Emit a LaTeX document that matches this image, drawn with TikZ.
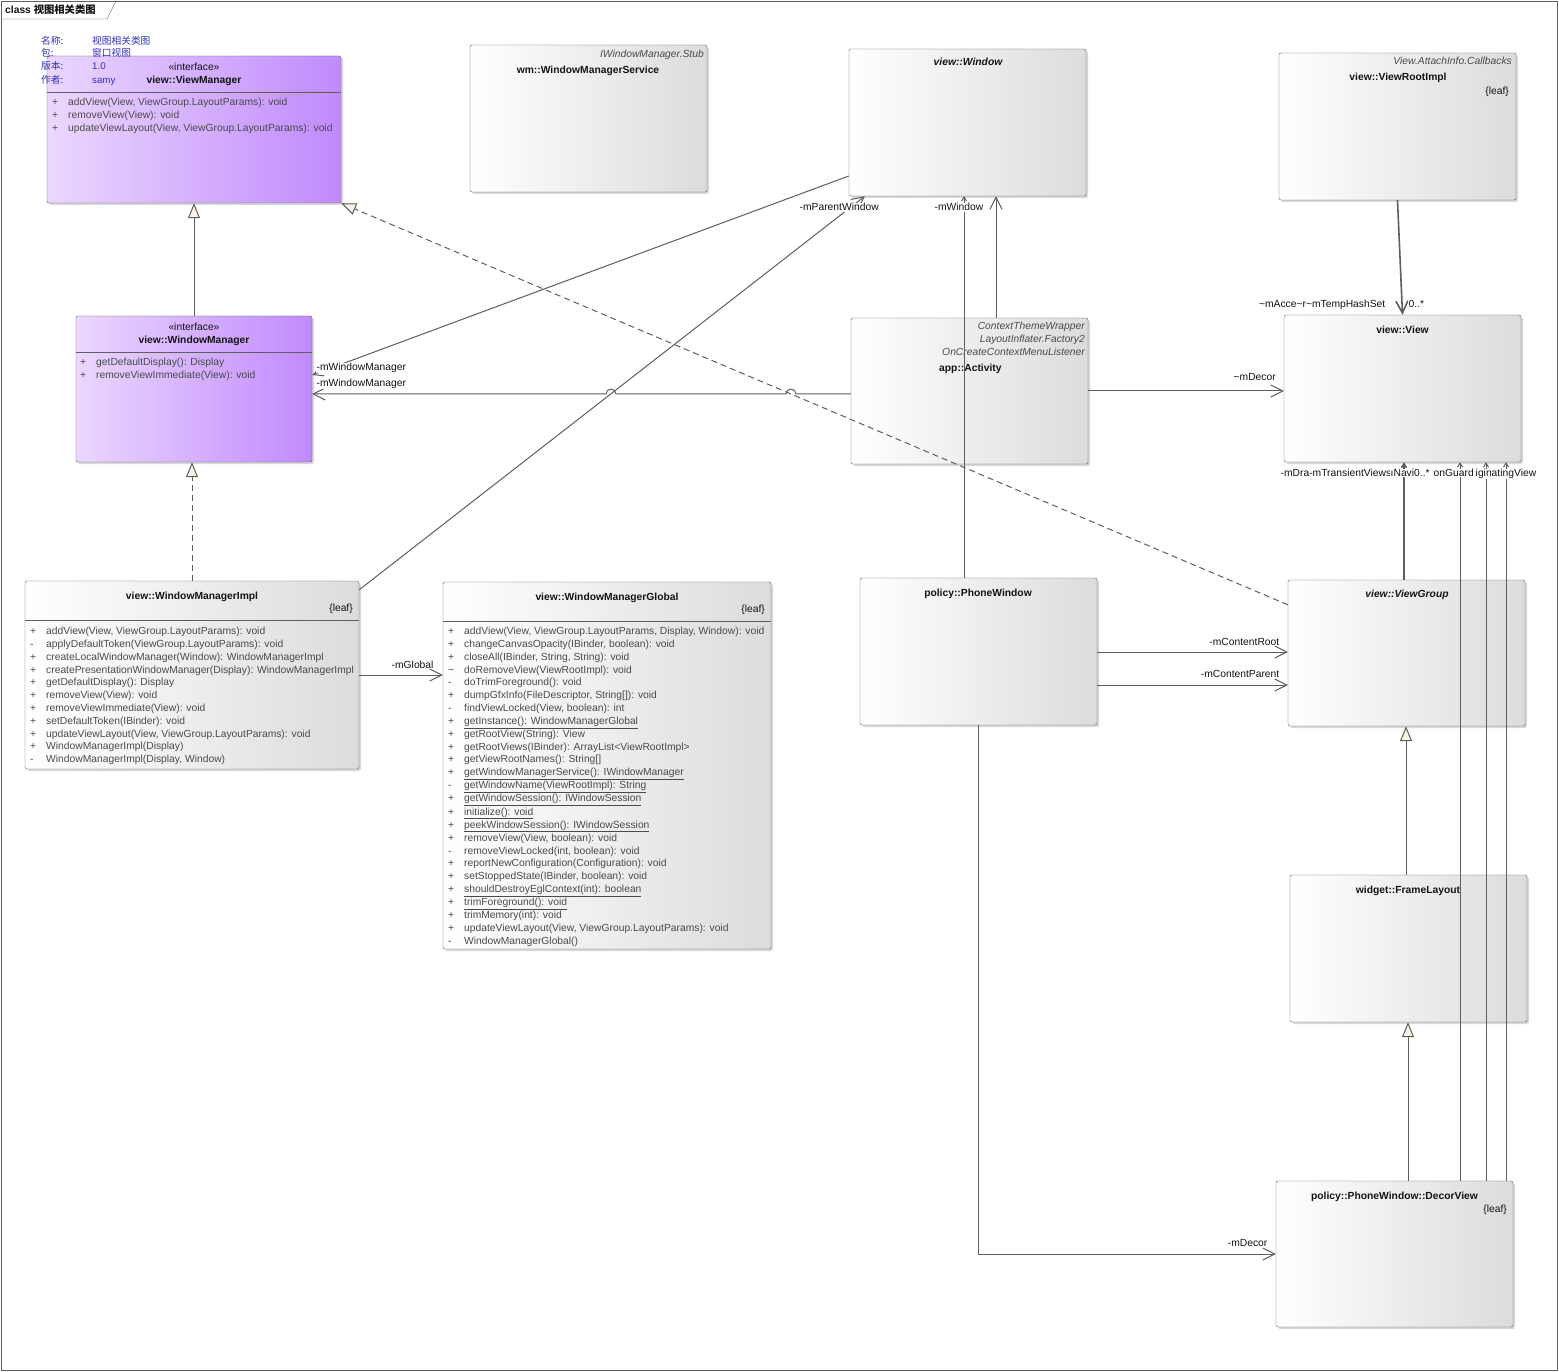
\documentclass[tikz,border=0pt]{standalone}
\usepackage{fontspec}
\setmainfont{Liberation Sans}
\newfontfamily\cjk{Noto Sans CJK SC}
\usepackage{xcolor}
\definecolor{edge}{HTML}{5E5E5E}
\definecolor{ink}{HTML}{141414}
\definecolor{muted}{HTML}{4A4A4A}
\definecolor{boxgray}{HTML}{DCDCDC}
\definecolor{lilaclight}{HTML}{EBD7FF}
\definecolor{lilac}{HTML}{C08AFC}
\definecolor{infoblue}{HTML}{3030C0}
\definecolor{trifill}{HTML}{FCF2E4}
\usepackage{tikz}
\usetikzlibrary{arrows.meta,shadows,positioning}

\begin{document}
\begin{tikzpicture}[x=1pt,y=-1pt,
  cls/.style={rectangle,draw=edge,rounded corners=2pt,left color=white,right color=boxgray,
    drop shadow={shadow xshift=2pt,shadow yshift=-2pt,opacity=0.3},inner sep=0pt,
    minimum width=237,minimum height=147},
  iface/.style={cls,left color=lilaclight,right color=lilac},
  cname/.style={font=\bfseries\fontsize{10.3}{12}\selectfont,text=ink,inner sep=0pt,anchor=base},
  stereo/.style={font=\fontsize{10.3}{12}\selectfont,text=ink,inner sep=0pt,anchor=base},
  supers/.style={font=\itshape\fontsize{10.3}{12}\selectfont,text=muted,inner sep=0pt,anchor=base east},
  ops/.style={font=\fontsize{10.3}{12.8}\selectfont,text=muted,inner sep=0pt,anchor=north west},
  role/.style={font=\fontsize{10.3}{12}\selectfont,text=ink,fill=white,inner sep=0.5pt},
  info/.style={font=\fontsize{9.7}{12}\selectfont,text=infoblue,inner sep=0pt,anchor=base west},
  assoc/.style={draw=edge,line width=1pt,-{Straight Barb[length=12pt,width=12pt]}},
  minor/.style={draw=edge,line width=1pt,-{Straight Barb[length=4pt,width=5pt]}},
  gen/.style={draw=edge,line width=1pt,-{Triangle[length=15pt,width=12pt,fill=trifill]}},
  real/.style={gen,dash pattern=on 6pt off 4pt}]
  \useasboundingbox (0,0) rectangle (1559,1372);
  \draw[edge,fill=white] (1,1) rectangle (1557,1370);
  \draw[edge] (1,19) -- (107,19) -- (116,1);
  \node[anchor=base west,font=\bfseries\fontsize{10.3}{12}\selectfont,text=ink,inner sep=0pt] (frame-title) at (5,14) {class {\cjk 视图相关类图}};

  % classes
  \node[iface,minimum width=294] (vm) at (194,129.5) {};
  \node[cls] (wms) at (588.5,118.5) {};
  \node[cls] (win) at (967.5,122.5) {};
  \node[cls] (vri) at (1397.5,126.5) {};
  \node[iface,minimum width=236,minimum height=146] (wm) at (194,389) {};
  \node[cls,minimum height=146] (act) at (969.5,391) {};
  \node[cls] (view) at (1402.5,388.5) {};
  \node[cls,minimum width=334,minimum height=188] (wmi) at (192,675) {};
  \node[cls,minimum width=328,minimum height=367] (wmg) at (607,765.5) {};
  \node[cls] (pw) at (978.5,651.5) {};
  \node[cls,minimum height=146] (vg) at (1406.5,653) {};
  \node[cls] (fl) at (1408.5,948.5) {};
  \node[cls,minimum height=146] (dv) at (1394.5,1254) {};

  \draw[edge] ([yshift=-36pt]vm.north west) -- ([yshift=-36pt]vm.north east);
  \draw[edge] ([yshift=-36pt]wm.north west) -- ([yshift=-36pt]wm.north east);
  \draw[edge] ([yshift=-39pt]wmi.north west) -- ([yshift=-39pt]wmi.north east);
  \draw[edge] ([yshift=-39pt]wmg.north west) -- ([yshift=-39pt]wmg.north east);

  % view::ViewManager
  \node[stereo] (vm-st) at (194,70.5) {«interface»};
  \node[cname] (vm-name) at (194,83.5) {view::ViewManager};
  \node[ops] (vm-ops) at (52,96.5) {\begin{tabular}{@{}p{16pt}@{}l@{}}
    + & addView(View, ViewGroup.LayoutParams): void\\
    + & removeView(View): void\\
    + & updateViewLayout(View, ViewGroup.LayoutParams): void
  \end{tabular}};

  % wm::WindowManagerService
  \node[supers] (wms-sup) at (704,57.5) {IWindowManager.Stub};
  \node[cname] (wms-name) at (588,73.5) {wm::WindowManagerService};

  % view::Window
  \node[cname,font=\bfseries\itshape\fontsize{10.3}{12}\selectfont] (win-name) at (968,66) {view::Window};

  % view::ViewRootImpl
  \node[supers] (vri-sup) at (1512,65) {View.AttachInfo.Callbacks};
  \node[cname] (vri-name) at (1398,81) {view::ViewRootImpl};
  \node[stereo,anchor=base east] (vri-leaf) at (1509,94.5) {\{leaf\}};

  % view::WindowManager
  \node[stereo] (wm-st) at (194,330.5) {«interface»};
  \node[cname] (wm-name) at (194,343.5) {view::WindowManager};
  \node[ops] (wm-ops) at (80,356.5) {\begin{tabular}{@{}p{16pt}@{}l@{}}
    + & getDefaultDisplay(): Display\\
    + & removeViewImmediate(View): void
  \end{tabular}};

  % app::Activity
  \node[supers] (act-sup1) at (1085,329.5) {ContextThemeWrapper};
  \node[supers] (act-sup2) at (1085,343) {LayoutInflater.Factory2};
  \node[supers] (act-sup3) at (1085,355.5) {OnCreateContextMenuListener};
  \node[cname,anchor=base west] (act-name) at (939,371) {app::Activity};

  % view::View
  \node[cname] (view-name) at (1402.5,334) {view::View};

  % view::WindowManagerImpl
  \node[cname] (wmi-name) at (192,599.5) {view::WindowManagerImpl};
  \node[stereo,anchor=base east] (wmi-leaf) at (353,611.5) {\{leaf\}};
  \node[ops] (wmi-ops) at (30,625.5) {\begin{tabular}{@{}p{16pt}@{}l@{}}
    + & addView(View, ViewGroup.LayoutParams): void\\
    - & applyDefaultToken(ViewGroup.LayoutParams): void\\
    + & createLocalWindowManager(Window): WindowManagerImpl\\
    + & createPresentationWindowManager(Display): WindowManagerImpl\\
    + & getDefaultDisplay(): Display\\
    + & removeView(View): void\\
    + & removeViewImmediate(View): void\\
    + & setDefaultToken(IBinder): void\\
    + & updateViewLayout(View, ViewGroup.LayoutParams): void\\
    + & WindowManagerImpl(Display)\\
    - & WindowManagerImpl(Display, Window)
  \end{tabular}};

  % view::WindowManagerGlobal
  \node[cname] (wmg-name) at (607,600.5) {view::WindowManagerGlobal};
  \node[stereo,anchor=base east] (wmg-leaf) at (765,612.5) {\{leaf\}};
  \node[ops] (wmg-ops) at (448,625.5) {\begin{tabular}{@{}p{16pt}@{}l@{}}
    + & addView(View, ViewGroup.LayoutParams, Display, Window): void\\
    + & changeCanvasOpacity(IBinder, boolean): void\\
    + & closeAll(IBinder, String, String): void\\
    \textasciitilde & doRemoveView(ViewRootImpl): void\\
    - & doTrimForeground(): void\\
    + & dumpGfxInfo(FileDescriptor, String[]): void\\
    - & findViewLocked(View, boolean): int\\
    + & \underline{getInstance(): WindowManagerGlobal}\\
    + & getRootView(String): View\\
    + & getRootViews(IBinder): ArrayList<ViewRootImpl>\\
    + & getViewRootNames(): String[]\\
    + & \underline{getWindowManagerService(): IWindowManager}\\
    - & \underline{getWindowName(ViewRootImpl): String}\\
    + & \underline{getWindowSession(): IWindowSession}\\
    + & \underline{initialize(): void}\\
    + & \underline{peekWindowSession(): IWindowSession}\\
    + & removeView(View, boolean): void\\
    - & removeViewLocked(int, boolean): void\\
    + & reportNewConfiguration(Configuration): void\\
    + & setStoppedState(IBinder, boolean): void\\
    + & \underline{shouldDestroyEglContext(int): boolean}\\
    + & \underline{trimForeground(): void}\\
    + & trimMemory(int): void\\
    + & updateViewLayout(View, ViewGroup.LayoutParams): void\\
    - & WindowManagerGlobal()
  \end{tabular}};

  % policy / widget classes
  \node[cname] (pw-name) at (978,596.5) {policy::PhoneWindow};
  \node[cname,font=\bfseries\itshape\fontsize{10.3}{12}\selectfont] (vg-name) at (1407,597.5) {view::ViewGroup};
  \node[cname] (fl-name) at (1408,893.5) {widget::FrameLayout};
  \node[cname] (dv-name) at (1394.5,1199.5) {policy::PhoneWindow::DecorView};
  \node[stereo,anchor=base east] (dv-leaf) at (1507,1212.5) {\{leaf\}};

  % diagram notes
  \node[info] (info-k1) at (41,44.5) {\cjk 名称:};
  \node[info] (info-v1) at (92,44.5) {\cjk 视图相关类图};
  \node[info] (info-k2) at (41,57) {\cjk 包:};
  \node[info] (info-v2) at (92,57) {\cjk 窗口视图};
  \node[info] (info-k3) at (41,70) {\cjk 版本:};
  \node[info] (info-v3) at (92,70) {1.0};
  \node[info] (info-k4) at (41,83.5) {\cjk 作者:};
  \node[info] (info-v4) at (92,83.5) {samy};

  % relations
  \draw[gen] (wm.north) -- (vm.south);
  \draw[real] (wmi.north) -- (wmi.north |- wm.south);
  \draw[real] ([yshift=-25pt]vg.north west) -- (vm.south east);
  \draw[assoc,-{Straight Barb[length=10pt,width=10pt]}] ([yshift=-53.5pt]win.west) -- ([yshift=14pt]wm.east);
  \draw[assoc] ([yshift=-3pt]act.west) -- (796,394) arc[start angle=0,end angle=180,radius=5pt]
    -- (616,394) arc[start angle=0,end angle=180,radius=5pt] -- ([yshift=-5pt]wm.east);
  \draw[assoc] ([yshift=-9pt]wmi.north east) -- ([xshift=16pt]win.south west);
  \draw[assoc] (wmi.east) -- (wmi.east -| wmg.west);
  \draw[minor] ([xshift=-14.5pt]pw.north) -- ([xshift=-14.5pt]pw.north |- win.south);
  \draw[assoc] ([xshift=26.5pt]act.north) -- ([xshift=26.5pt]act.north |- win.south);
  \draw[assoc] (act.east) -- (act.east -| view.west);
  \draw[assoc,line width=1.6pt] (vri.south) -- (view.north);
  \draw[minor,line width=1.6pt] ([xshift=-2.5pt]vg.north) -- ([xshift=-2.5pt]vg.north |- view.south);
  \foreach \dx in {65.5,91.5,111.5}
    \draw[minor] ([xshift=\dx pt]dv.north) -- ([xshift=\dx pt]dv.north |- view.south);
  \draw[gen] ([xshift=-2.5pt]fl.north) -- ([xshift=-2.5pt]fl.north |- vg.south);
  \draw[gen] ([xshift=13.5pt]dv.north) -- ([xshift=13.5pt]dv.north |- fl.south);
  \draw[assoc] ([yshift=-0.5pt]pw.east) -- ([yshift=-0.5pt]pw.east -| vg.west);
  \draw[assoc] ([yshift=-33.5pt]pw.east) -- ([yshift=-33.5pt]pw.east -| vg.west);
  \draw[assoc] (pw.south) |- (dv.west);

  % role names
  \node[role,anchor=base west] (r-wm1) at (316,370.5) {-mWindowManager};
  \node[role,anchor=base west] (r-wm2) at (316,386) {-mWindowManager};
  \node[role,anchor=base west] (r-parent) at (799,211) {-mParentWindow};
  \node[role,anchor=base west] (r-window) at (934,211) {-mWindow};
  \node[role,anchor=base west] (r-global) at (391,668.5) {-mGlobal};
  \node[role,anchor=base west] (r-decor1) at (1233,381) {\textasciitilde mDecor};
  \node[role,anchor=base east] (r-attach) at (1386,307.5) {\textasciitilde mAcce\textasciitilde r\textasciitilde mTempHashSet};
  \node[role,anchor=base west] (r-many) at (1408,307.5) {0..*};
  \node[role,anchor=base west] (r-trans) at (1280,476.5) {-mDra-mTransientViews};
  \node[role,anchor=base west] (r-navi) at (1390,476.5) {ıNavi0..*};
  \node[role,anchor=base west] (r-guard) at (1433,476.5) {onGuard};
  \node[role,anchor=base west] (r-orig) at (1475,476.5) {iginatingView};
  \node[role,anchor=base east] (r-root) at (1280,645) {-mContentRoot};
  \node[role,anchor=base east] (r-cparent) at (1280,677.5) {-mContentParent};
  \node[role,anchor=base east] (r-decor2) at (1268,1246) {-mDecor};
\end{tikzpicture}
\end{document}
